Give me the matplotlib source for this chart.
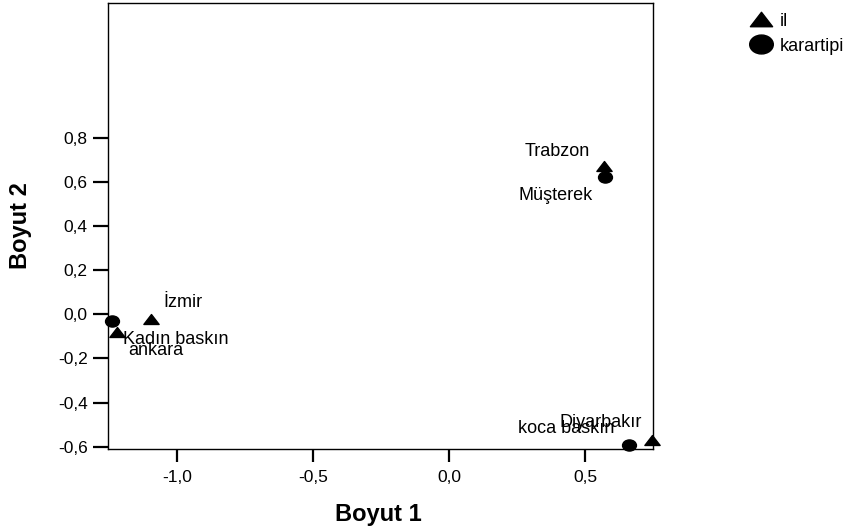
import matplotlib
matplotlib.use('Agg')
import matplotlib.pyplot as plt
from matplotlib.lines import Line2D
from matplotlib.path import Path
from matplotlib.transforms import Affine2D

plt.rcParams['font.family'] = ['Liberation Sans', 'DejaVu Sans']

# il (cities) - triangles
il_names = ['İzmir', 'ankara', 'Trabzon', 'Diyarbakır']
il_x = [-1.097, -1.22, 0.571, 0.747]
il_y = [-0.02, -0.08, 0.67, -0.57]
il_off = [(8.9, 11.5), (7.9, -13.4), (-34, 11), (-37, 12.7)]

# karartipi (decision type) - circles
kt_names = ['Kadın baskın', 'Müşterek', 'koca baskın']
kt_x = [-1.24, 0.574, 0.662]
kt_y = [-0.03, 0.62, -0.59]
kt_off = [(8.1, -13.7), (-35.4, -13.2), (-45, 11.5)]

xticks = [-1.0, -0.5, 0.0, 0.5]
yticks = [-0.6, -0.4, -0.2, 0.0, 0.2, 0.4, 0.6, 0.8]

# slightly wide markers, like the reference
tri = Path([(-1, -0.65), (1, -0.65), (0, 0.65), (-1, -0.65)], closed=True)
ell = Path.unit_circle().transformed(Affine2D().scale(1.0, 0.8))

fig = plt.figure(figsize=(8.55, 5.29), dpi=100)
ax = fig.add_axes([0.1263, 0.1512, 0.6374, 0.8431])

ax.plot(il_x, il_y, linestyle='none', marker=tri, color='black', markersize=11, clip_on=False)
ax.plot(kt_x, kt_y, linestyle='none', marker=ell, color='black', markersize=10, clip_on=False)

for n, x, y, off in zip(il_names + kt_names, il_x + kt_x, il_y + kt_y, il_off + kt_off):
    ha = 'left' if off[0] > 0 else 'center'
    ax.annotate(n, (x, y), xytext=off, textcoords='offset points', ha=ha, va='center', fontsize=13)

ax.set_xlim(-1.254, 0.75)
ax.set_ylim(-0.61, 1.41)
ax.set_xticks(xticks)
ax.set_xticklabels([('%.1f' % v).replace('.', ',') for v in xticks])
ax.set_yticks(yticks)
ax.set_yticklabels([('%.1f' % v).replace('.', ',') for v in yticks])
ax.tick_params(direction='out', width=1.6, labelsize=12.5)
ax.tick_params(axis='x', length=9, pad=6)
ax.tick_params(axis='y', length=11, pad=3.5)
for s in ax.spines.values():
    s.set_linewidth(1.0)

ax.set_xlabel('Boyut 1', fontsize=17, fontweight='bold')
ax.set_ylabel('Boyut 2', fontsize=17, fontweight='bold')
ax.xaxis.set_label_coords(0.497, -0.121)
ax.yaxis.set_label_coords(-0.14, 0.5)

handles = [Line2D([], [], linestyle='none', marker=tri, color='black', markersize=16),
           Line2D([], [], linestyle='none', marker=ell, color='black', markersize=17)]
fig.legend(handles, ['il', 'karartipi'], loc='upper left', bbox_to_anchor=(0.862, 1.0),
           frameon=False, fontsize=13, handletextpad=0.35, labelspacing=0.45,
           handlelength=1.3, borderaxespad=0.3)

fig.savefig('out.png', dpi=100)
